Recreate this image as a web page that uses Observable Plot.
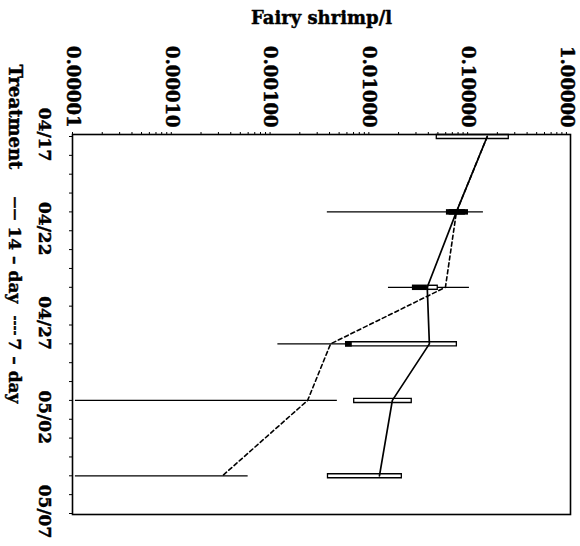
<!DOCTYPE html>
<html>
<head>
<meta charset="utf-8">
<script src="https://cdn.jsdelivr.net/npm/d3@7"></script>
<script src="https://cdn.jsdelivr.net/npm/@observablehq/plot@0.6"></script>
<style>
  html, body { margin: 0; padding: 0; background: #fff; }
  #chart svg { display: block; }
</style>
</head>
<body>
<div id="chart"></div>
<script>
// ---- data ----
const sampleDates = ["04/17", "04/21", "04/25", "04/28", "05/01", "05/05"];
// 14-day treatment: line values and box (hollow) extents
const mean14  = [0.158, 0.077, 0.039, 0.041, 0.0173, 0.0128];
const box14Lo = [0.048, 0.065, 0.0392, 0.0058, 0.0070, 0.0038];
const box14Hi = [0.265, 0.095, 0.0506, 0.079, 0.0276, 0.0219];
// 7-day treatment: line values, whiskers and (filled) boxes
const mean7    = [0.158, 0.077, 0.0596, 0.0041, 0.0024, 0.00033];
const whisk7Lo = [null, 0.0038, 0.0158, 0.0012, 0.0000107, 0.0000107];
const whisk7Hi = [null, 0.1445, 0.1043, 0.0058, 0.0048, 0.0006];
const box7Lo   = [null, 0.061, 0.0276, 0.0058, null, null];
const box7Hi   = [null, 0.102, 0.0392, 0.0068, null, null];
// axis ticks
const valueTicks = [0.00001, 0.0001, 0.001, 0.01, 0.1, 1];
const dateTickLabels = ["04/17", "04/22", "04/27", "05/02", "05/07"];
const yTitle = "Fairy shrimp/l";
const legendTitle = "Treatment";
const legendLabels = ["14 \u2013 day", "7 \u2013 day"];

const parse = s => d3.utcParse("%Y/%m/%d")("2000/" + s);
const fmtVal = d3.format(".5f");

const rows = sampleDates.map((d, i) => ({
  date: parse(d),
  mean14: mean14[i], box14Lo: box14Lo[i], box14Hi: box14Hi[i],
  mean7: mean7[i], whisk7Lo: whisk7Lo[i], whisk7Hi: whisk7Hi[i],
  box7Lo: box7Lo[i], box7Hi: box7Hi[i]
}));
const dateTicks = dateTickLabels.map(parse);
const dayTicks = d3.utcDay.range(parse("04/17"), d3.utcDay.offset(parse("05/07"), 1));
const minorValueTicks = d3.range(-5, 0).flatMap(e => d3.range(1, 10).map(m => m * Math.pow(10, e))).concat([1]);

const serif = "DejaVu Serif";
const whisk7 = rows.filter(r => r.whisk7Lo != null);
const box7 = rows.filter(r => r.box7Lo != null);

const txt = { fontWeight: "bold", fontFamily: serif, fill: "black", stroke: "black", strokeWidth: 0.45 };

const chart = Plot.plot({
  width: 580,
  height: 546,
  marginLeft: 72,
  marginRight: 10,
  marginTop: 134,
  marginBottom: 32,
  style: { background: "white", fontFamily: serif, color: "black" },
  x: {
    type: "log", domain: [0.00001, 1.1], axis: "top",
    ticks: minorValueTicks, tickFormat: () => "", tickSize: 3, label: null
  },
  y: {
    type: "utc", domain: [parse("04/17"), parse("05/07")], reverse: true, axis: "left",
    insetTop: 2, insetBottom: 1,
    ticks: dayTicks, tickFormat: () => "", tickSize: 3, label: null
  },
  marks: [
    // 7-day whiskers
    Plot.ruleY(whisk7, { y: "date", x1: "whisk7Lo", x2: "whisk7Hi", stroke: "black", strokeWidth: 1.2 }),
    // 14-day hollow boxes
    Plot.ruleY(rows, { y: "date", x1: "box14Lo", x2: "box14Hi", stroke: "black", strokeWidth: 5.5 }),
    Plot.ruleY(rows, { y: "date", x1: "box14Lo", x2: "box14Hi", stroke: "white", strokeWidth: 2.6, insetLeft: 1.3, insetRight: 1.3 }),
    // 7-day filled boxes
    Plot.ruleY(box7, { y: "date", x1: "box7Lo", x2: "box7Hi", stroke: "black", strokeWidth: 5.5 }),
    // lines
    Plot.line(rows, { x: "mean7", y: "date", stroke: "black", strokeWidth: 1.6, strokeDasharray: "4,3" }),
    Plot.line(rows, { x: "mean14", y: "date", stroke: "black", strokeWidth: 1.7 }),
    Plot.frame({ stroke: "black", strokeWidth: 1.6 }),
    // value tick labels (rotated)
    Plot.text(valueTicks, {
      x: d => d, text: d => fmtVal(d), frameAnchor: "top", dy: -7,
      rotate: 90, textAnchor: "end", lineAnchor: "middle", fontSize: 18, ...txt
    }),
    // date tick labels (rotated)
    Plot.text(dateTicks, {
      y: d => d, text: d => d3.utcFormat("%m/%d")(d), frameAnchor: "left", dx: -28, dy: -2,
      rotate: 90, textAnchor: "middle", lineAnchor: "middle", fontSize: 17, ...txt
    }),
    // title
    Plot.text([yTitle], {
      text: d => d, frameAnchor: "top", dy: -116, lineAnchor: "middle", fontSize: 18, ...txt
    }),
    // legend (rotated, along left)
    Plot.text([legendTitle], {
      text: d => d, frameAnchor: "top-left", dx: -58, dy: -70,
      rotate: 90, textAnchor: "start", lineAnchor: "middle", fontSize: 18, ...txt
    }),
    Plot.text(["\u2014\u2014"], {
      text: d => d, frameAnchor: "top-left", dx: -58, dy: 62,
      rotate: 90, textAnchor: "start", lineAnchor: "middle", fontSize: 12, ...txt
    }),
    Plot.text([legendLabels[0]], {
      text: d => d, frameAnchor: "top-left", dx: -58, dy: 92,
      rotate: 90, textAnchor: "start", lineAnchor: "middle", fontSize: 17, ...txt
    }),
    Plot.text(["----"], {
      text: d => d, frameAnchor: "top-left", dx: -58, dy: 181,
      rotate: 90, textAnchor: "start", lineAnchor: "middle", fontSize: 12, ...txt
    }),
    Plot.text([legendLabels[1]], {
      text: d => d, frameAnchor: "top-left", dx: -58, dy: 204,
      rotate: 90, textAnchor: "start", lineAnchor: "middle", fontSize: 17, ...txt
    })
  ]
});
document.getElementById("chart").appendChild(chart);
</script>
</body>
</html>
